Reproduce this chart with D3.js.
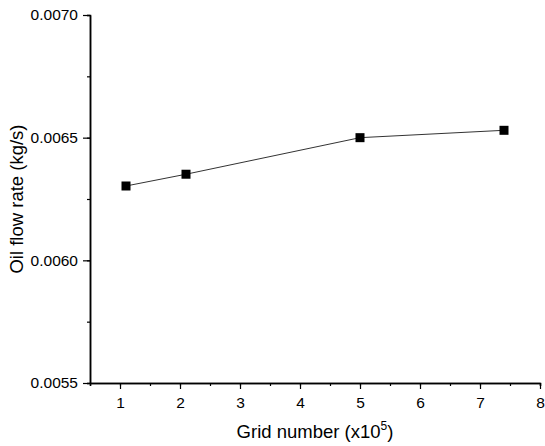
<!DOCTYPE html>
<html>
<head>
<meta charset="utf-8">
<script src="https://cdn.jsdelivr.net/npm/d3@7"></script>
<style>
body { margin: 0; background: #fff; }
text { font-family: "Liberation Sans", Arial, sans-serif; fill: #000; }
</style>
</head>
<body>
<svg id="chart" width="545" height="446"></svg>
<script>
var grid_num = [1.1, 2.1, 5.0, 7.4]
var oil_flow = [0.006303, 0.006351, 0.006500, 0.006530]
var x_ticks = [1, 2, 3, 4, 5, 6, 7, 8]
var y_ticks = [0.0055, 0.0060, 0.0065, 0.0070]

var svg = d3.select('#chart')
var m_left = 90, m_right = 540, m_top = 15, m_bottom = 383

var x = d3.scaleLinear().domain([0.5, 8]).range([m_left, m_right])
var y = d3.scaleLinear().domain([0.0055, 0.0070]).range([m_bottom, m_top])

// minor ticks first, majors drawn over them
svg.append('g').attr('transform', 'translate(0,' + m_bottom + ')')
	.call(d3.axisBottom(x).tickValues(d3.range(0.5, 8.01, 0.5)).tickSize(3).tickFormat(''))
svg.append('g').attr('transform', 'translate(' + m_left + ',0)')
	.call(d3.axisLeft(y).tickValues(d3.range(0.0055, 0.00701, 0.00025)).tickSize(3).tickFormat(''))

var xa = svg.append('g').attr('transform', 'translate(0,' + m_bottom + ')')
	.call(d3.axisBottom(x).tickValues(x_ticks).tickSize(6).tickSizeOuter(0).tickPadding(8))
var ya = svg.append('g').attr('transform', 'translate(' + m_left + ',0)')
	.call(d3.axisLeft(y).tickValues(y_ticks).tickSize(7).tickSizeOuter(0).tickPadding(5).tickFormat(d3.format('.4f')))

svg.selectAll('.domain').attr('stroke', '#000').attr('stroke-width', 1.5)
svg.selectAll('.tick line').attr('stroke', '#000').attr('stroke-width', 1.2)
svg.selectAll('.tick text').style('font-size', '15.5px').style('font-family', '"Liberation Sans", Arial, sans-serif')

var line = d3.line().x(function(d){return x(d[0])}).y(function(d){return y(d[1])})
var pts = d3.zip(grid_num, oil_flow)
svg.append('path').datum(pts)
	.attr('d', line)
	.attr('fill', 'none')
	.attr('stroke', '#333')
	.attr('stroke-width', 1)

svg.selectAll('rect.pt').data(pts).enter().append('rect')
	.attr('class', 'pt')
	.attr('x', function(d){return x(d[0]) - 4.5})
	.attr('y', function(d){return y(d[1]) - 4.5})
	.attr('width', 9).attr('height', 9)
	.attr('fill', '#000')

var xt = svg.append('text')
	.attr('x', 315).attr('y', 438)
	.attr('text-anchor', 'middle')
	.style('font-size', '18.5px')
xt.append('tspan').text('Grid number (x10')
xt.append('tspan').style('font-size', '12px').attr('dy', -8).text('5')
xt.append('tspan').attr('dy', 8).text(')')

svg.append('text')
	.attr('transform', 'translate(23,199) rotate(-90)')
	.attr('text-anchor', 'middle')
	.style('font-size', '18.5px')
	.text('Oil flow rate (kg/s)')
</script>
</body>
</html>
